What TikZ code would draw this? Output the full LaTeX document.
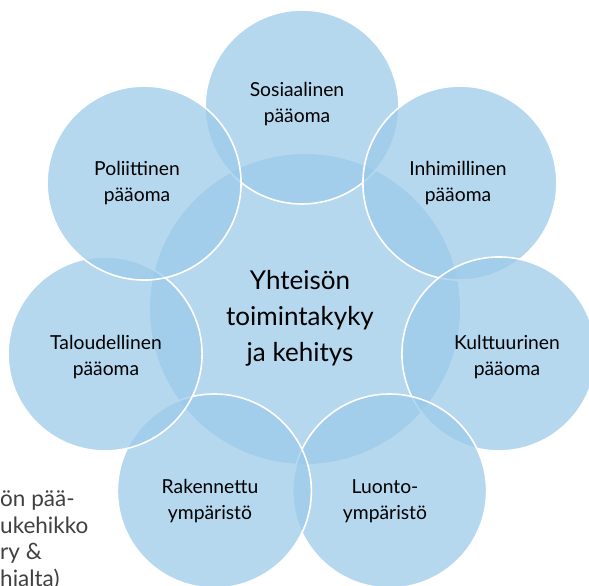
\documentclass[tikz,border=0pt]{standalone}
\usepackage{fontspec}
\setmainfont{Lato}
\usetikzlibrary{calc}
\definecolor{cblue}{RGB}{155,202,234}
\definecolor{txtgray}{RGB}{64,64,64}
\tikzset{
  hubcircle/.style={circle, fill=cblue, fill opacity=0.72, draw=none, minimum size=310pt, inner sep=0pt},
  outercircle/.style={circle, fill=cblue, fill opacity=0.72, draw=white, draw opacity=1, line width=1.6pt, minimum size=194pt, inner sep=0pt},
  lbl/.style={align=center, font=\fontsize{19.3}{26}\selectfont, text=black, inner sep=0pt},
  hublbl/.style={align=center, font=\fontsize{26}{36}\selectfont, text=black, inner sep=0pt},
  sidetxt/.style={align=left, font=\fontsize{22.5}{26.5}\selectfont, text=txtgray, inner sep=0pt, anchor=north west}
}
\begin{document}
\begin{tikzpicture}[x=1pt,y=1pt]
\useasboundingbox (0,0) rectangle (589,586);
\fill[white] (0,0) rectangle (589,586);
% hub
\node[hubcircle] (hub) at (305,277) {};
% outer circles on a heptagon
\coordinate (c) at (302,277);
\node[outercircle] (sos) at ($(c)+(90:202)$) {};
\node[outercircle] (inh) at ($(c)+(38.57:202)$) {};
\node[outercircle] (kul) at ($(c)+(-12.86:202)$) {};
\node[outercircle] (luo) at ($(c)+(-64.29:202)$) {};
\node[outercircle] (rak) at ($(c)+(-115.71:202)$) {};
\node[outercircle] (tal) at ($(c)+(-167.14:202)$) {};
\node[outercircle] (pol) at ($(c)+(141.43:202)$) {};
% labels
\node[hublbl] (hubt) at (300,268) {Yhteisön\\toimintakyky\\ja kehitys};
\node[lbl] (sost) at (297,482) {Sosiaalinen\\pääoma};
\node[lbl] (polt) at (137,402.5) {Poliittinen\\pääoma};
\node[lbl] (inht) at (458,402.5) {Inhimillinen\\pääoma};
\node[lbl] (talt) at (106,228.5) {Taloudellinen\\pääoma};
\node[lbl] (kult) at (507,228.5) {Kulttuurinen\\pääoma};
\node[lbl] (rakt) at (210,85) {Rakennettu\\ympäristö};
\node[lbl] (luot) at (385,85) {Luonto-\\ympäristö};
% cropped side text
\node[sidetxt] (side) at (0,95) {ön pää-\\ukehikko\\ry \&\\hjalta)};
\end{tikzpicture}
\end{document}
